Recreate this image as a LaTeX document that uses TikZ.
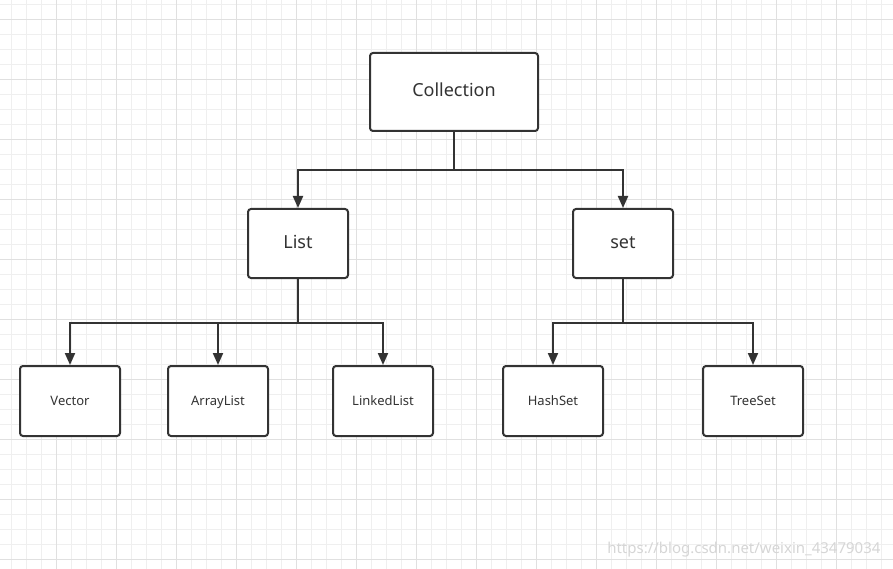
\documentclass[tikz,border=0pt]{standalone}
\usepackage{fontspec}
\setmainfont{Noto Sans}
\usetikzlibrary{arrows.meta}
\definecolor{inkgray}{HTML}{333333}
\definecolor{gridminor}{HTML}{EFEFEF}
\definecolor{gridmajor}{HTML}{E0E0E0}
\begin{document}
\begin{tikzpicture}[x=1pt,y=-1pt,
        box/.style={draw=inkgray, line width=2pt, rounded corners=3pt, fill=white,
            text=inkgray, font=\fontsize{18}{20}\selectfont, inner sep=0pt,
            text height=0.95em, text depth=0em},
        leafbox/.style={box, minimum width=100pt, minimum height=70pt,
            font=\fontsize{13}{15}\selectfont},
        link/.style={draw=inkgray, line width=2pt, -{Triangle[width=10pt,length=12pt]}}]
        \useasboundingbox (0,0) rectangle (893,569);
        \fill[white] (0,0) rectangle (893,569);

        % background grid
        \foreach \x in {11.5,26.5,...,893} {
            \draw[gridminor, line width=1pt] (\x,0) -- (\x,569);
        }
        \foreach \y in {4.5,19.5,...,569} {
            \draw[gridminor, line width=1pt] (0,\y) -- (893,\y);
        }
        \foreach \x in {56.5,116.5,...,893} {
            \draw[gridmajor, line width=1pt] (\x,0) -- (\x,569);
        }
        \foreach \y in {19.5,79.5,...,569} {
            \draw[gridmajor, line width=1pt] (0,\y) -- (893,\y);
        }

        % top level
        \node[box, minimum width=168pt, minimum height=78pt] (coll) at (454,92) {Collection};

        % second level
        \node[box, minimum width=100pt, minimum height=69pt] (list) at (298,243.5) {List};
        \node[box, minimum width=100pt, minimum height=69pt] (set) at (623,243.5) {set};

        % leaves
        \node[leafbox] (vector) at (70,401) {Vector};
        \node[leafbox] (arraylist) at (218,401) {ArrayList};
        \node[leafbox] (linkedlist) at (383,401) {LinkedList};
        \node[leafbox] (hashset) at (553,401) {HashSet};
        \node[leafbox] (treeset) at (753,401) {TreeSet};

        % connectors
        \draw[link] (coll.south) -- ++(0,38) -| (list.north);
        \draw[link] (coll.south) -- ++(0,38) -| (set.north);
        \draw[link] (list.south) -- ++(0,44) -| (vector.north);
        \draw[link] (list.south) -- ++(0,44) -| (arraylist.north);
        \draw[link] (list.south) -- ++(0,44) -| (linkedlist.north);
        \draw[link] (set.south) -- ++(0,44) -| (hashset.north);
        \draw[link] (set.south) -- ++(0,44) -| (treeset.north);

        % watermark
        \node[text=gridmajor!90!gray, font=\fontsize{15}{17}\selectfont, anchor=east] (mark) at (884,550) {https://blog.csdn.net/weixin\_43479034};
\end{tikzpicture}
\end{document}
